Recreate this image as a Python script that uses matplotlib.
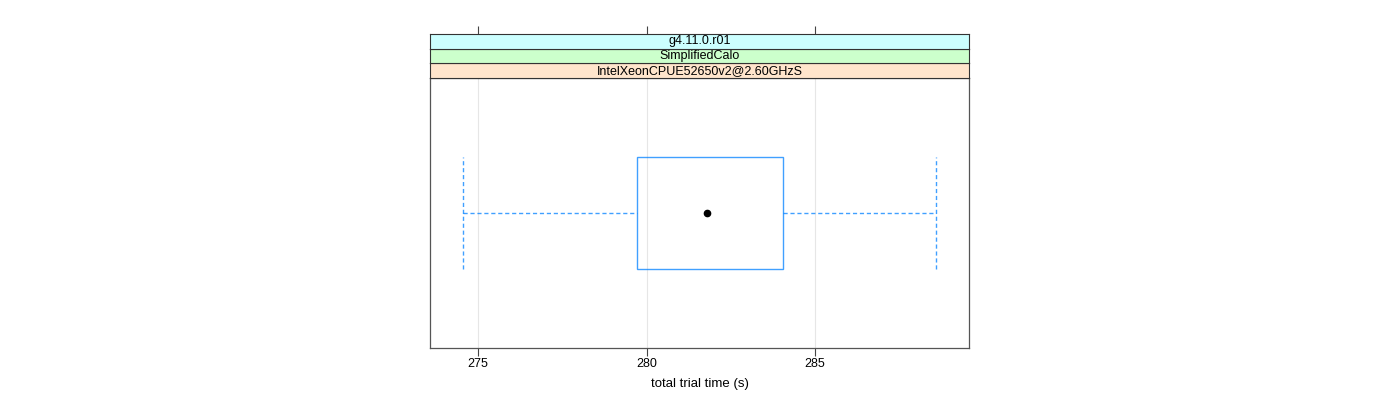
import matplotlib
matplotlib.use('Agg')
import matplotlib.pyplot as plt
from matplotlib.patches import Rectangle

plt.rcParams['font.family'] = ['Liberation Sans', 'DejaVu Sans']

# box-and-whisker summary for total trial time (s)
whisker_low = 274.56
box_q1 = 279.72
median = 281.78
box_q3 = 284.06
whisker_high = 288.59

strip_labels = ['IntelXeonCPUE52650v2@2.60GHzS', 'SimplifiedCalo', 'g4.11.0.r01']
strip_colors = ['#ffe5cc', '#ccffcc', '#ccffff']
xticks = [275, 280, 285]
xlim = (273.57, 289.57)

W, H = 1400, 400
fig = plt.figure(figsize=(W / 100, H / 100), dpi=100)

left, right = 430, 969
ptop, pbot = 78, 348
ax = fig.add_axes([left / W, 1 - pbot / H, (right - left) / W, (pbot - ptop) / H])

blue = '#0080ff'
pos, hw = 1, 0.25
dash = (0, (3, 2))
ax.add_patch(Rectangle((box_q1, pos - hw), box_q3 - box_q1, 2 * hw,
                       facecolor='none', edgecolor=blue, linewidth=1.0, alpha=0.75))
ax.plot([whisker_low, box_q1], [pos, pos], color=blue, ls=dash, lw=1.0, alpha=0.75)
ax.plot([box_q3, whisker_high], [pos, pos], color=blue, ls=dash, lw=1.0, alpha=0.75)
for w in (whisker_low, whisker_high):
    ax.plot([w, w], [pos - hw, pos + hw], color=blue, ls=dash, lw=1.0, alpha=0.75)
ax.plot([median], [pos], 'o', color='black', markersize=4.5, zorder=5)

ax.set_xlim(*xlim)
ax.set_ylim(0.4, 1.6)
ax.set_xticks(xticks)
ax.set_yticks([])
for x in xticks:
    ax.axvline(x, color='#e6e6e6', linewidth=0.8, zorder=0)
ax.tick_params(axis='x', direction='out', length=6, width=0.8, color='#444444',
               labelsize=9, pad=1)
for s in ax.spines.values():
    s.set_color('#555555')
    s.set_linewidth(0.9)
ax.set_xlabel('total trial time (s)', fontsize=9.5, labelpad=6)

# strips above the panel
sh = 44 / 3
for i, (lab, col) in enumerate(zip(strip_labels, strip_colors)):
    y0 = ptop - sh * (i + 1)
    sax = fig.add_axes([left / W, 1 - (y0 + sh) / H, (right - left) / W, sh / H])
    sax.set_facecolor(col)
    sax.set_xlim(*xlim)
    sax.set_yticks([])
    sax.text(0.5, 0.5, lab, transform=sax.transAxes, ha='center', va='center', fontsize=9)
    for s in sax.spines.values():
        s.set_color('#333333')
        s.set_linewidth(0.8)
    if i == len(strip_labels) - 1:
        sax.set_xticks(xticks)
        sax.xaxis.tick_top()
        sax.tick_params(axis='x', direction='out', length=6, width=0.8, color='#444444',
                        labeltop=False)
    else:
        sax.set_xticks([])

fig.savefig('out.png', dpi=100)
